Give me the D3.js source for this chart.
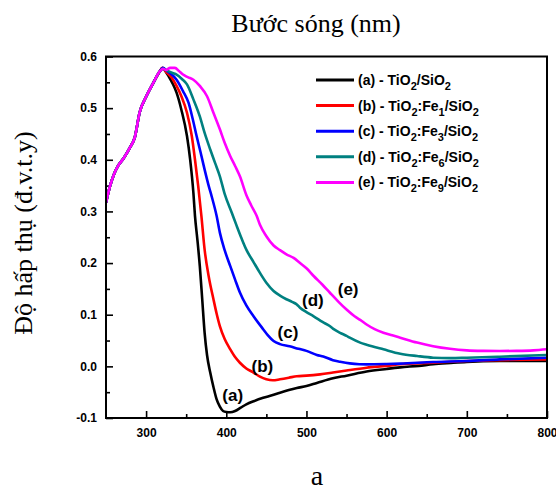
<!DOCTYPE html>
<html>
<head>
<meta charset="utf-8">
<script src="https://cdn.jsdelivr.net/npm/d3@7"></script>
<style>
  body { margin: 0; background: #fff; }
  svg { display: block; }
</style>
</head>
<body>
<svg id="chart" width="556" height="488"></svg>
<script>
// UV-Vis absorbance spectra, [wavelength (nm), absorbance]
const spectrumA = [
  [250,.317],[255,.349],[260,.372],[265,.388],[272,.403],[280,.424],[286,.444],[292,.492],
  [300,.522],[309,.549],[317,.571],[321,.578],[324,.572],[328,.562],[333,.548],[338,.530],
  [344,.497],[351,.446],[355,.400],[359,.336],[361,.291],[364,.245],[367,.194],[370,.130],
  [373,.065],[376,.022],[380,-.012],[384,-.040],[388,-.064],[392,-.078],[396,-.0865],
  [400,-.0885],[405,-.089],[411,-.0865],[418,-.080],[425,-.0735],[435,-.067],[446,-.061],
  [457,-.056],[467,-.051],[478,-.046],[488,-.042],[500,-.038],[513,-.032],[533,-.023],
  [550,-.018],[575,-.010],[600,-.005],[617,-.002],[640,.001],[658,.004],[680,.0065],
  [700,.0085],[741,.0103],[800,.0105]
];
const spectrumB = [
  [250,.317],[255,.349],[260,.372],[265,.388],[272,.403],[280,.424],[286,.444],[292,.492],
  [300,.522],[309,.549],[317,.571],[320,.578],[325,.570],[332,.559],[338,.543],[344,.523],
  [351,.491],[357,.446],[361,.400],[365,.349],[369,.291],[373,.226],[378,.175],[384,.130],
  [388,.102],[392,.078],[398,.053],[405,.033],[411,.018],[417,.007],[425,-.004],[434,-.012],
  [442,-.020],[450,-.025],[458,-.027],[467,-.025],[478,-.022],[488,-.019],[500,-.018],
  [517,-.0155],[533,-.012],[550,-.008],[575,-.0026],[600,.001],[617,.004],[658,.007],
  [700,.0103],[741,.012],[800,.0135]
];
const spectrumC = [
  [250,.317],[255,.349],[260,.372],[265,.388],[272,.403],[280,.424],[286,.444],[292,.492],
  [300,.522],[309,.549],[317,.571],[321,.578],[326,.572],[332,.565],[338,.555],[346,.533],
  [353,.510],[358,.480],[363,.446],[368,.414],[373,.381],[378,.350],[382,.328],[388,.291],
  [392,.259],[398,.225],[405,.194],[411,.168],[417,.143],[425,.118],[434,.097],[446,.072],
  [452,.060],[459,.049],[467,.043],[479,.039],[490,.034],[500,.030],[513,.022],[521,.019],
  [533,.012],[542,.009],[554,.0058],[566,.0042],[575,.0039],[600,.0045],[617,.0052],
  [658,.0084],[700,.0103],[741,.0135],[800,.0168]
];
const spectrumD = [
  [250,.317],[255,.349],[260,.372],[265,.388],[272,.403],[280,.424],[286,.444],[292,.492],
  [300,.522],[309,.549],[317,.571],[321,.576],[327,.572],[333,.568],[338,.565],[345,.556],
  [351,.546],[359,.517],[367,.484],[373,.452],[380,.420],[386,.394],[392,.368],[398,.334],
  [407,.297],[413,.272],[419,.248],[425,.226],[434,.202],[442,.181],[450,.162],[459,.146],
  [467,.137],[475,.130],[482,.125],[488,.120],[492,.1135],[500,.105],[509,.097],[520,.086],
  [529,.078],[533,.073],[542,.065],[550,.059],[554,.0555],[567,.046],[575,.042],[596,.033],
  [617,.0245],[638,.020],[658,.0168],[680,.016],[700,.0168],[741,.0187],[800,.022]
];
const spectrumE = [
  [250,.317],[255,.349],[260,.372],[265,.388],[272,.403],[280,.424],[286,.444],[292,.492],
  [300,.522],[309,.549],[317,.571],[321,.576],[325,.574],[330,.578],[336,.578],[341,.572],
  [346,.565],[352,.560],[359,.555],[367,.543],[376,.523],[384,.491],[392,.459],[398,.433],
  [405,.407],[411,.388],[417,.368],[425,.332],[431,.312],[438,.291],[442,.274],[450,.252],
  [459,.234],[467,.225],[475,.217],[484,.210],[492,.200],[500,.190],[509,.175],[520,.158],
  [529,.143],[540,.125],[550,.110],[560,.097],[567,.090],[575,.081],[585,.072],[596,.065],
  [607,.060],[617,.0555],[638,.046],[658,.039],[679,.034],[700,.031],[720,.030],[741,.0297],
  [762,.030],[783,.031],[800,.033]
];

const seriesNames = ["(a) - TiO_2/SiO_2", "(b) - TiO_2:Fe_1/SiO_2", "(c) - TiO_2:Fe_3/SiO_2",
                     "(d) - TiO_2:Fe_6/SiO_2", "(e) - TiO_2:Fe_9/SiO_2"];
const seriesColors = ["#000000", "#ff0000", "#0000ff", "#008080", "#ff00ff"];
const seriesData = [spectrumA, spectrumB, spectrumC, spectrumD, spectrumE];

// curve tags placed in data units [nm, absorbance]
const curveTags = ["(a)", "(b)", "(c)", "(d)", "(e)"];
const curveTagPos = [[408,-.056],[445,0.0],[477,.066],[508,.128],[552,.149]];

const xMajorTicks = [300, 400, 500, 600, 700, 800];
const xMinorTicks = [350, 450, 550, 650, 750];
const yMajorTicks = [-0.1, 0.0, 0.1, 0.2, 0.3, 0.4, 0.5, 0.6];
const yMinorTicks = [-0.05, 0.05, 0.15, 0.25, 0.35, 0.45, 0.55];

const titleText = "Bước sóng (nm)";
const yTitleText = "Độ hấp thụ (đ.v.t.y)";
const panelText = "a";

const W = 556, H = 488;
const margin = { top: 56.5, right: 9, bottom: 70, left: 106 };
const svg = d3.select("#chart");

const x = d3.scaleLinear().domain([250, 800]).range([margin.left, W - margin.right]);
const y = d3.scaleLinear().domain([-0.1, 0.6]).range([H - margin.bottom, margin.top]);

const tickFont = "bold 12px 'Liberation Sans', Arial, sans-serif";

svg.append("defs").append("clipPath").attr("id", "plotClip")
  .append("rect")
  .attr("x", x.range()[0]).attr("y", y.range()[1])
  .attr("width", x.range()[1] - x.range()[0])
  .attr("height", y.range()[0] - y.range()[1]);

// axes with inward ticks
function styleAxis(g) {
  g.select(".domain").remove();
  g.selectAll(".tick line").attr("stroke", "#000").attr("stroke-width", 1.6);
  g.selectAll(".tick text").style("font", tickFont).attr("fill", "#000");
}

svg.append("g")
  .attr("transform", `translate(0,${y.range()[0]})`)
  .call(d3.axisBottom(x).tickValues(xMajorTicks).tickSize(-7).tickPadding(10)
    .tickFormat(d => String(d)))
  .call(styleAxis);
svg.append("g")
  .attr("transform", `translate(0,${y.range()[0]})`)
  .call(d3.axisBottom(x).tickValues(xMinorTicks).tickSize(-4).tickFormat(""))
  .call(styleAxis);
svg.append("g")
  .attr("transform", `translate(${x.range()[0]},0)`)
  .call(d3.axisLeft(y).tickValues(yMajorTicks).tickSize(-7).tickPadding(9)
    .tickFormat(d => d.toFixed(1)))
  .call(styleAxis);
svg.append("g")
  .attr("transform", `translate(${x.range()[0]},0)`)
  .call(d3.axisLeft(y).tickValues(yMinorTicks).tickSize(-4).tickFormat(""))
  .call(styleAxis);

// spectra
const line = d3.line()
  .x(d => x(d[0]))
  .y(d => y(d[1]))
  .curve(d3.curveMonotoneX);

const curves = svg.append("g").attr("clip-path", "url(#plotClip)");
seriesData.forEach((data, i) => {
  curves.append("path")
    .datum(data)
    .attr("fill", "none")
    .attr("stroke", seriesColors[i])
    .attr("stroke-width", 2.6)
    .attr("stroke-linejoin", "round")
    .attr("d", line);
});

// plot frame
svg.append("rect")
  .attr("x", x.range()[0]).attr("y", y.range()[1])
  .attr("width", x.range()[1] - x.range()[0])
  .attr("height", y.range()[0] - y.range()[1])
  .attr("fill", "none").attr("stroke", "#000").attr("stroke-width", 2);

// curve tags
svg.append("g").selectAll("text")
  .data(curveTags)
  .join("text")
  .attr("x", (d, i) => x(curveTagPos[i][0]))
  .attr("y", (d, i) => y(curveTagPos[i][1]))
  .attr("dy", "0.35em")
  .attr("text-anchor", "middle")
  .style("font", "bold 17px 'Liberation Sans', Arial, sans-serif")
  .attr("fill", "#000")
  .text(d => d);

// legend
const legend = svg.append("g").attr("transform", "translate(316,80)");
seriesNames.forEach((name, i) => {
  const row = legend.append("g").attr("transform", `translate(0,${i * 25.6})`);
  row.append("line")
    .attr("x1", 0).attr("x2", 38).attr("y1", 0).attr("y2", 0)
    .attr("stroke", seriesColors[i]).attr("stroke-width", 3);
  const t = row.append("text")
    .attr("x", 42).attr("y", 5)
    .style("font", "bold 14px 'Liberation Sans', Arial, sans-serif")
    .attr("fill", "#000");
  name.split(/(_\w)/).filter(s => s.length).forEach(part => {
    if (part.startsWith("_")) {
      t.append("tspan").attr("dy", 5).style("font-size", "11px").text(part.slice(1));
      t.append("tspan").attr("dy", -5).text("\u200b");
    } else {
      t.append("tspan").text(part);
    }
  });
});

// titles
const serif = "'Liberation Serif', 'Times New Roman', serif";
svg.append("text")
  .attr("x", 316).attr("y", 32)
  .attr("text-anchor", "middle")
  .style("font", `26px ${serif}`)
  .text(titleText);

svg.append("text")
  .attr("transform", "translate(32,233) rotate(-90)")
  .attr("text-anchor", "middle")
  .style("font", `26px ${serif}`)
  .text(yTitleText);

svg.append("text")
  .attr("x", 317).attr("y", 485)
  .attr("text-anchor", "middle")
  .style("font", `28px ${serif}`)
  .text(panelText);
</script>
</body>
</html>
